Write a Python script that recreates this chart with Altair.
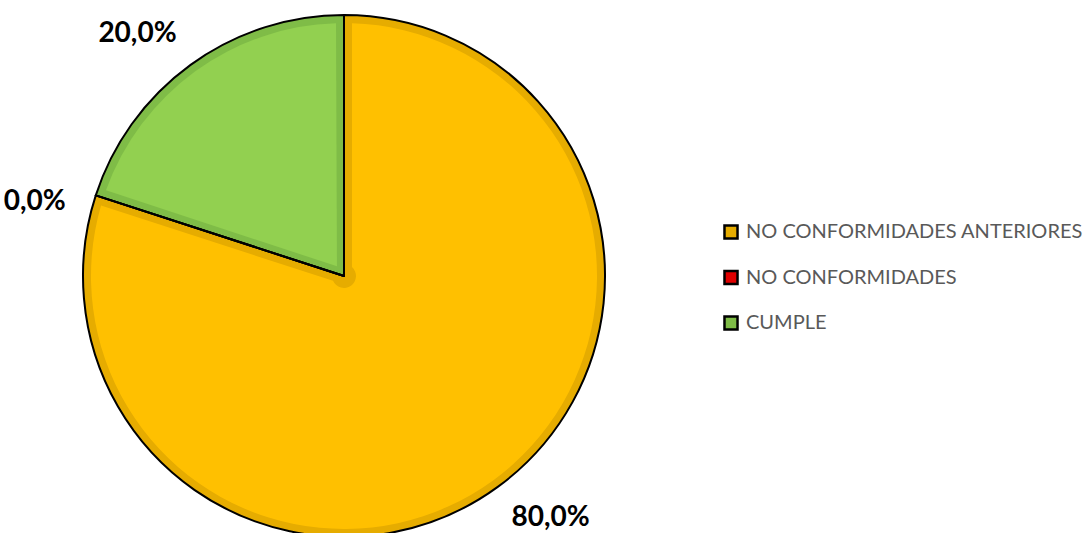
import altair as alt
import pandas as pd

categories = ["NO CONFORMIDADES ANTERIORES", "NO CONFORMIDADES", "CUMPLE"]
values = [80.0, 0.0, 20.0]
labels = ["80,0%", "0,0%", "20,0%"]
order = [0, 1, 2]
fill_colors = ["#FFC000", "#FF0000", "#92D050"]
band_colors = ["#E6AC00", "#E00000", "#7FBC47"]

df = pd.DataFrame({"cat": categories, "value": values, "label": labels, "order": order})

CX, CY, R = 344, 276, 261
theta = alt.Theta("value:Q", stack=True, scale=alt.Scale(domain=[0, 100]))
pos = dict(x=alt.value(CX), y=alt.value(CY), order=alt.Order("order:Q"))

dark = alt.Chart(df).mark_arc(radius=R).encode(
    theta=theta,
    color=alt.Color(
        "cat:N",
        sort=categories,
        scale=alt.Scale(domain=categories, range=band_colors),
        legend=alt.Legend(
            title=None, orient="none", legendX=721, legendY=222,
            symbolType="square", symbolSize=170, symbolStrokeColor="black",
            symbolStrokeWidth=2.5, labelFont="Lato", labelFontSize=20,
            labelColor="#595959", rowPadding=21.5, labelOffset=5, padding=0,
            labelLimit=400,
        ),
    ),
    **pos,
)

light = alt.Chart(df).transform_filter("datum.value > 0").mark_arc(
    radius=R - 8, radius2=12, padAngle=0.0632
).encode(
    theta=theta,
    color=alt.Color("cat:N", scale=alt.Scale(domain=categories, range=fill_colors), legend=None),
    **pos,
)

outline = alt.Chart(df).mark_arc(
    radius=R, fillOpacity=0, stroke="black", strokeWidth=2, strokeJoin="round"
).encode(theta=theta, **pos)

text = alt.Chart(df).mark_text(
    font="Lato", fontSize=28, fontWeight="bold", color="black", radius=318, thetaOffset=6.2047
).encode(theta=theta, text="label:N", **pos)

chart = alt.layer(dark, light, outline, text).resolve_scale(color="independent").properties(
    width=1086, height=533, autosize=alt.AutoSizeParams(type="none"), padding=0,
    background="white",
).configure_view(stroke=None)

chart.save("out.html", embed_options={"renderer": "svg", "actions": False})
